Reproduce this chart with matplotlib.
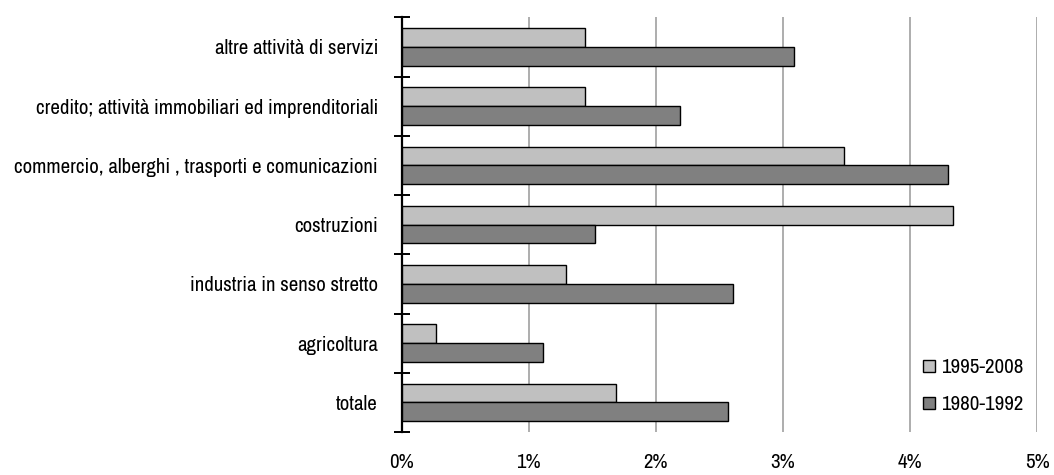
import numpy as np
import matplotlib.pyplot as plt
from matplotlib.ticker import PercentFormatter

plt.rcParams['font.family'] = ['Archivo Narrow', 'Liberation Sans', 'DejaVu Sans']

# settori, dal basso verso l'alto
settori = ["totale", "agricoltura", "industria in senso stretto", "costruzioni",
           "commercio, alberghi , trasporti e comunicazioni",
           "credito; attività immobiliari ed imprenditoriali",
           "altre attività di servizi"]
p1995_2008 = [1.69, 0.27, 1.29, 4.34, 3.48, 1.44, 1.44]
p1980_1992 = [2.57, 1.11, 2.61, 1.52, 4.30, 2.19, 3.09]

fig = plt.figure(figsize=(10.54, 4.75), dpi=100)
ax = fig.add_axes([0.381, 0.0905, 0.603, 0.873])

y = np.arange(len(settori))
h = 0.316
ax.barh(y + h / 2, p1995_2008, height=h, color="#c0c0c0", edgecolor="black",
        linewidth=1.0, label="1995-2008", zorder=3)
ax.barh(y - h / 2, p1980_1992, height=h, color="#808080", edgecolor="black",
        linewidth=1.0, label="1980-1992", zorder=3)

ax.set_xlim(0, 5)
ax.set_ylim(-0.5, len(settori) - 0.5)
ax.set_xticks(range(6))
ax.xaxis.set_major_formatter(PercentFormatter(decimals=0))
ax.grid(axis="x", color="#a0a0a0", linewidth=1.2, zorder=0)

# tacche tra le categorie, etichette al centro
ax.set_yticks(np.arange(-0.5, len(settori), 1))
ax.set_yticklabels([])
ax.set_yticks(y, minor=True)
ax.set_yticklabels(settori, minor=True, fontsize=15)
ax.tick_params(axis="y", which="major", direction="inout", length=11, width=1.4)
ax.tick_params(axis="y", which="minor", length=0, pad=17)
ax.tick_params(axis="x", length=0, pad=15, labelsize=15)

for s in ["top", "right", "bottom"]:
    ax.spines[s].set_visible(False)
ax.spines["left"].set_linewidth(1.6)

leg = ax.legend(loc="lower right", frameon=False, fontsize=15, handlelength=0.53,
                handleheight=0.53, handletextpad=0.3, labelspacing=0.87,
                borderpad=0, borderaxespad=0, bbox_to_anchor=(0.978, 0.043))

fig.savefig("out.png", dpi=100)
